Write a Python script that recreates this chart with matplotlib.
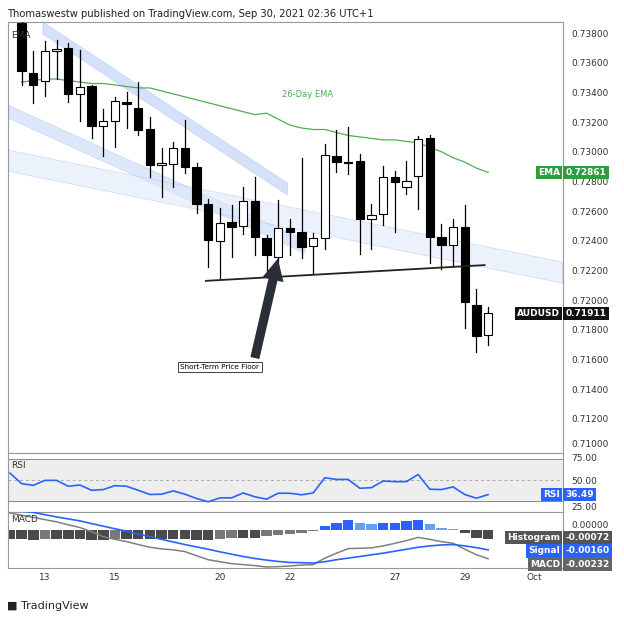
import matplotlib.pyplot as plt
from matplotlib.patches import Polygon, Rectangle
import numpy as np

# 8-hour AUD/USD candles, index 0 = first full candle on the chart
opens = [0.73865, 0.73534, 0.73474, 0.73678, 0.73696, 0.73386, 0.73443, 0.73175, 0.73210, 0.73337,
         0.73297, 0.73152, 0.72908, 0.72917, 0.73027, 0.72899, 0.72651, 0.72400, 0.72528, 0.72501,
         0.72667, 0.72422, 0.72292, 0.72483, 0.72458, 0.72364, 0.72422, 0.72973, 0.72932, 0.72939,
         0.72550, 0.72579, 0.72827, 0.72764, 0.72836, 0.73090, 0.72427, 0.72371, 0.72494, 0.71966,
         0.71764]
highs = [0.73900, 0.73680, 0.73746, 0.73756, 0.73733, 0.73689, 0.73450, 0.73285, 0.73370, 0.73404,
         0.73472, 0.73236, 0.73022, 0.73067, 0.73213, 0.72925, 0.72679, 0.72624, 0.72640, 0.72764,
         0.72827, 0.72438, 0.72674, 0.72550, 0.72959, 0.72454, 0.73049, 0.73150, 0.73164, 0.72988,
         0.72651, 0.72903, 0.72870, 0.72937, 0.73105, 0.73112, 0.72512, 0.72550, 0.72640, 0.72078,
         0.71955]
lows = [0.73450, 0.73326, 0.73375, 0.73490, 0.73337, 0.73208, 0.73096, 0.72973, 0.73034, 0.73157,
        0.73112, 0.72831, 0.72696, 0.72764, 0.72854, 0.72584, 0.72220, 0.72146, 0.72292, 0.72449,
        0.72303, 0.72168, 0.72190, 0.72303, 0.72281, 0.72180, 0.72344, 0.72865, 0.72847, 0.72310,
        0.72344, 0.72505, 0.72456, 0.72712, 0.72611, 0.72247, 0.72213, 0.72231, 0.71813, 0.71651,
        0.71696]
closes = [0.73546, 0.73447, 0.73678, 0.73692, 0.73390, 0.73438, 0.73173, 0.73207, 0.73342, 0.73319,
          0.73146, 0.72910, 0.72925, 0.73022, 0.72899, 0.72645, 0.72404, 0.72523, 0.72494, 0.72667,
          0.72427, 0.72303, 0.72483, 0.72460, 0.72359, 0.72422, 0.72977, 0.72932, 0.72926, 0.72550,
          0.72573, 0.72827, 0.72795, 0.72804, 0.73083, 0.72427, 0.72371, 0.72494, 0.71989, 0.71760,
          0.71911]
ema26 = [0.7347, 0.7348, 0.7349, 0.7349, 0.7348, 0.7347, 0.7346, 0.7346, 0.7345, 0.7344,
         0.7343, 0.7343, 0.7341, 0.7339, 0.7337, 0.7335, 0.7333, 0.7331, 0.7329, 0.7327,
         0.7325, 0.7326, 0.7322, 0.7318, 0.7316, 0.7315, 0.7315, 0.7313, 0.7311, 0.7310,
         0.7309, 0.7308, 0.7308, 0.7307, 0.7306, 0.7303, 0.7300, 0.7296, 0.7293, 0.7289,
         0.72861]

# indicator series start one candle earlier (index -1)
rsi = [56.9, 46.9, 45.3, 50.0, 50.0, 44.4, 45.6, 40.6, 41.3, 45.0, 44.4, 40.6, 36.6, 36.9,
       40.0, 36.9, 32.8, 29.7, 33.4, 33.4, 38.1, 34.4, 32.2, 37.8, 37.8, 36.3, 38.1, 52.5,
       50.9, 50.9, 42.5, 43.1, 49.4, 48.8, 48.8, 55.6, 41.6, 41.3, 43.8, 36.6, 33.1, 36.49]
macd = [0.00139, 0.00120, 0.00104, 0.00085, 0.00067, 0.00043, 0.00021, -0.00013, -0.00053, -0.00075,
        -0.00093, -0.00117, -0.00139, -0.00152, -0.00160, -0.00174, -0.00208, -0.00240, -0.00256,
        -0.00272, -0.00280, -0.00288, -0.00299, -0.00296, -0.00291, -0.00283, -0.00280, -0.00227,
        -0.00187, -0.00150, -0.00147, -0.00144, -0.00128, -0.00107, -0.00085, -0.00059, -0.00075,
        -0.00093, -0.00107, -0.00155, -0.00200, -0.00232]
signal = [0.00174, 0.00155, 0.00144, 0.00125, 0.00107, 0.00091, 0.00075, 0.00053, 0.00032, 0.00011,
          -0.00008, -0.00032, -0.00053, -0.00075, -0.00096, -0.00117, -0.00136, -0.00155, -0.00176,
          -0.00195, -0.00214, -0.00230, -0.00243, -0.00254, -0.00262, -0.00264, -0.00267, -0.00256,
          -0.00240, -0.00227, -0.00214, -0.00200, -0.00187, -0.00171, -0.00155, -0.00139, -0.00128,
          -0.00120, -0.00117, -0.00128, -0.00142, -0.00160]
hist = [-0.0007, -0.0007, -0.0008, -0.0007, -0.0007, -0.0007, -0.0007, -0.0008, -0.0008, -0.0007,
        -0.0007, -0.0007, -0.0007, -0.0007, -0.0007, -0.0007, -0.0008, -0.0008, -0.0007, -0.0006,
        -0.0006, -0.0006, -0.0005, -0.0004, -0.0003, -0.0002, -0.0001, 0.0003, 0.0006, 0.0008,
        0.0006, 0.0005, 0.0006, 0.0006, 0.0007, 0.0008, 0.0005, 0.0002, 0.0001, -0.0002,
        -0.0006, -0.00072]

tick_pos = [2, 8, 17, 23, 32, 38, 44]
tick_labels = ["13", "15", "20", "22", "27", "29", "Oct"]
price_ticks = np.arange(0.710, 0.7381, 0.002)

XMIN, XMAX = -1.17, 46.4

fig = plt.figure(figsize=(6.24, 6.2), dpi=100)
fig.text(0.012, 0.985, "Thomaswestw published on TradingView.com, Sep 30, 2021 02:36 UTC+1",
         fontsize=7.2, va="top", color="#222")

ax = fig.add_axes([0.0128, 0.2694, 0.889, 0.695])
ax_rsi = fig.add_axes([0.0128, 0.1742, 0.889, 0.0952], sharex=ax)
ax_macd = fig.add_axes([0.0128, 0.0839, 0.889, 0.0903], sharex=ax)

for a in (ax, ax_rsi, ax_macd):
    a.yaxis.tick_right()
    a.tick_params(axis="y", length=0, labelsize=6.5, labelcolor="#333", pad=6)
    a.tick_params(axis="x", length=0)
    for s in a.spines.values():
        s.set_color("#999")
        s.set_linewidth(0.8)

# channels drawn on the chart
bands = [((1.83, 0.73874), (22.8, 0.72789), 0.00081, "#b8cdf5", 0.6),
         ((-1.17, 0.73315), (24.3, 0.72405), 0.00088, "#c2d5f7", 0.55),
         ((-1.17, 0.73011), (46.4, 0.72256), 0.00142, "#dde8fb", 0.55)]
for (x0, y0), (x1, y1), w, c, al in bands:
    ax.add_patch(Polygon([(x0, y0), (x1, y1), (x1, y1 - w), (x0, y0 - w)],
                         closed=True, fc=c, ec="#9db8ef", lw=0.4, alpha=al, zorder=1))

n = len(opens)
for i in range(n):
    o, h, l, c = opens[i], highs[i], lows[i], closes[i]
    ax.plot([i, i], [l, h], color="black", lw=0.9, zorder=3)
    up = c >= o
    ax.add_patch(Rectangle((i - 0.36, min(o, c)), 0.72, max(abs(c - o), 0.00004),
                           fc="white" if up else "black", ec="black", lw=0.8, zorder=4))

ax.plot(range(n), ema26, color="#4caf50", lw=0.9, zorder=2)
ax.text(24.5, 0.73370, "26-Day EMA", color="#4caf50", fontsize=6, ha="center")
ax.text(-0.9, 0.7377, "EMA", fontsize=6.5, color="#333", zorder=5)

# support line and arrow
ax.plot([15.8, 39.7], [0.72130, 0.72236], color="#222", lw=1.3, zorder=5)
ax.annotate("", xy=(21.97, 0.7228), xytext=(20.0, 0.7161),
            arrowprops=dict(arrowstyle="simple,head_length=1.3,head_width=1.3,tail_width=0.55",
                            mutation_scale=12, fc="#2a2e39", ec="none", shrinkA=0, shrinkB=0),
            zorder=5)
ax.text(17.0, 0.71548, "Short-Term Price Floor", fontsize=5.2, ha="center", va="center",
        bbox=dict(boxstyle="square,pad=0.3", fc="white", ec="#222", lw=0.6), zorder=6)

ax.set_xlim(XMIN, XMAX)
ax.set_ylim(0.7097, 0.73874)
ax.set_yticks(price_ticks)
ax.set_yticklabels([f"{p:.5f}" for p in price_ticks])
ax.get_yticklabels()[0].set_va("bottom")
plt.setp(ax.get_xticklabels(), visible=False)

# right-side value tags
def tag(a, y, txt, fc, label=None, lfc=None):
    a.text(1.005, y, txt, transform=a.get_yaxis_transform(), fontsize=6.5, color="white",
           fontweight="bold", va="center", ha="left",
           bbox=dict(boxstyle="square,pad=0.25", fc=fc, ec="none"), zorder=10, clip_on=False)
    if label:
        a.text(0.995, y, label, transform=a.get_yaxis_transform(), fontsize=6.5, color="white",
               fontweight="bold", va="center", ha="right",
               bbox=dict(boxstyle="square,pad=0.25", fc=lfc or fc, ec="none"), zorder=10, clip_on=False)

tag(ax, ema26[-1], f"{ema26[-1]:.5f}", "#2e9e3f", "EMA")
tag(ax, closes[-1], f"{closes[-1]:.5f}", "#111111", "AUDUSD")

# RSI panel
xi = np.arange(-1, n)
ax_rsi.axhspan(30, 70, color="#eeeeee", zorder=0)
ax_rsi.axhline(70, color="#888", lw=0.7)
ax_rsi.axhline(30, color="#888", lw=0.7)
ax_rsi.axhline(50, color="#aaa", lw=0.7, ls=(0, (3, 3)))
ax_rsi.plot(xi, rsi, color="#2962ff", lw=1.2)
ax_rsi.set_ylim(20, 76)
ax_rsi.set_yticks([25, 50, 75])
ax_rsi.set_yticklabels(["25.00", "50.00", "75.00"])
ax_rsi.get_yticklabels()[2].set_va("top")
ax_rsi.text(-0.9, 68, "RSI", fontsize=6.5, color="#333", va="top")
tag(ax_rsi, rsi[-1], f"{rsi[-1]:.2f}", "#2962ff", "RSI")
plt.setp(ax_rsi.get_xticklabels(), visible=False)

# MACD panel
cols = []
for k, v in enumerate(hist):
    prev = hist[k - 1] if k > 0 else v
    if v >= 0:
        cols.append("#2962ff" if v >= prev else "#64a0f5")
    else:
        cols.append("#787878" if v > prev else "#4a4a4a")
ax_macd.bar(xi, hist, width=0.9, color=cols, zorder=2)
ax_macd.plot(xi, macd, color="#808080", lw=1.1, zorder=3)
ax_macd.plot(xi, signal, color="#2962ff", lw=1.2, zorder=3)
ax_macd.set_ylim(-0.00307, 0.00147)
ax_macd.set_yticks([0])
ax_macd.set_yticklabels(["0.00000"])
ax_macd.get_yticklabels()[0].set_va("bottom")
ax_macd.text(-0.9, 0.0012, "MACD", fontsize=6.5, color="#333", va="top")
tag(ax_macd, -0.00060, f"{hist[-1]:.5f}", "#555555", "Histogram")
tag(ax_macd, -0.00168, f"{signal[-1]:.5f}", "#2962ff", "Signal")
tag(ax_macd, -0.00276, f"{macd[-1]:.5f}", "#666666", "MACD")
ax_macd.set_xticks(tick_pos)
ax_macd.set_xticklabels(tick_labels, fontsize=6.5, color="#333")

fig.text(0.012, 0.022, "\u25A0 TradingView", fontsize=8, color="#222", va="center")

fig.savefig("out.png", dpi=100)
